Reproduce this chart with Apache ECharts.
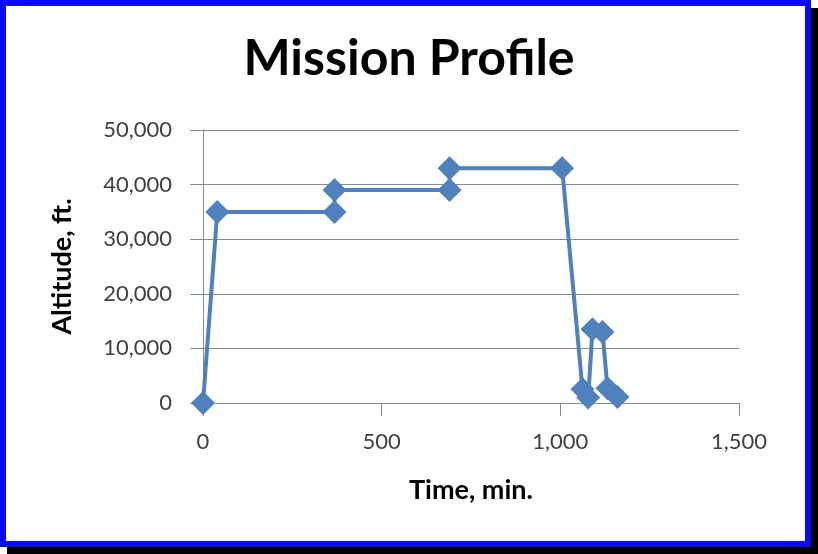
<!DOCTYPE html>
<html>
<head>
<meta charset="utf-8">
<script src="https://cdn.jsdelivr.net/npm/echarts@6/dist/echarts.min.js"></script>
<style>
  html, body { margin: 0; padding: 0; background: #fff; }
  #frame {
    position: absolute; left: 0; top: 0;
    width: 811px; height: 547px;
    box-sizing: border-box;
    border: 6px solid #0a0aff;
    box-shadow: 7px 8px 0 #000;
    background: #fff;
  }
  #chart { position: absolute; left: 0; top: 0; width: 818px; height: 554px; }
</style>
</head>
<body>
<div id="frame"></div>
<div id="chart"></div>
<script>
// time (min) and altitude (ft)
const timeMin = [0, 40, 368, 368, 690, 690, 1005, 1062, 1078, 1090, 1118, 1132, 1160];
const altitudeFt = [0, 35000, 35000, 39000, 39000, 43000, 43000, 2500, 1000, 13500, 13000, 2700, 1100];
const xTicks = [0, 500, 1000, 1500];
const yTicks = [0, 10000, 20000, 30000, 40000, 50000];

const points = timeMin.map((t, i) => [t, altitudeFt[i]]);
const fmt = (v) => v.toLocaleString('en-US');
const font = 'Lato, "Open Sans", sans-serif';

const chart = echarts.init(document.getElementById('chart'), null, { renderer: 'canvas' });

chart.setOption({
  backgroundColor: 'transparent',
  animation: false,
  title: {
    text: 'Mission Profile',
    left: 'center',
    top: 29,
    textStyle: { fontFamily: font, fontWeight: 'bold', fontSize: 50, color: '#000' }
  },
  grid: { left: 203, right: 79, top: 130, bottom: 151 },
  xAxis: {
    type: 'value',
    min: xTicks[0],
    max: xTicks[xTicks.length - 1],
    interval: 500,
    name: 'Time, min.',
    nameLocation: 'middle',
    nameGap: 74,
    nameTextStyle: { fontFamily: font, fontWeight: 'bold', fontSize: 27, color: '#000' },
    axisLine: { show: true, lineStyle: { color: '#8a8a8a', width: 1 } },
    axisTick: { show: true, length: 13, lineStyle: { color: '#8a8a8a' } },
    axisLabel: { margin: 28, fontFamily: font, fontSize: 22, color: '#404040', formatter: fmt },
    splitLine: { show: false }
  },
  yAxis: {
    type: 'value',
    min: yTicks[0],
    max: yTicks[yTicks.length - 1],
    interval: 10000,
    name: 'Altitude, ft.',
    nameLocation: 'middle',
    nameGap: 127,
    nameTextStyle: { fontFamily: font, fontWeight: 'bold', fontSize: 27, color: '#000' },
    axisLine: { show: true, lineStyle: { color: '#8a8a8a', width: 1 } },
    axisTick: { show: true, length: 13, lineStyle: { color: '#8a8a8a' } },
    axisLabel: { margin: 31, fontFamily: font, fontSize: 22, color: '#404040', formatter: fmt },
    splitLine: { show: true, lineStyle: { color: '#8a8a8a', width: 1 } }
  },
  series: [{
    type: 'line',
    data: points,
    symbol: 'diamond',
    symbolSize: 24,
    lineStyle: { color: '#4f81bd', width: 4 },
    itemStyle: { color: '#4f81bd' },
    z: 3
  }]
});
</script>
</body>
</html>
